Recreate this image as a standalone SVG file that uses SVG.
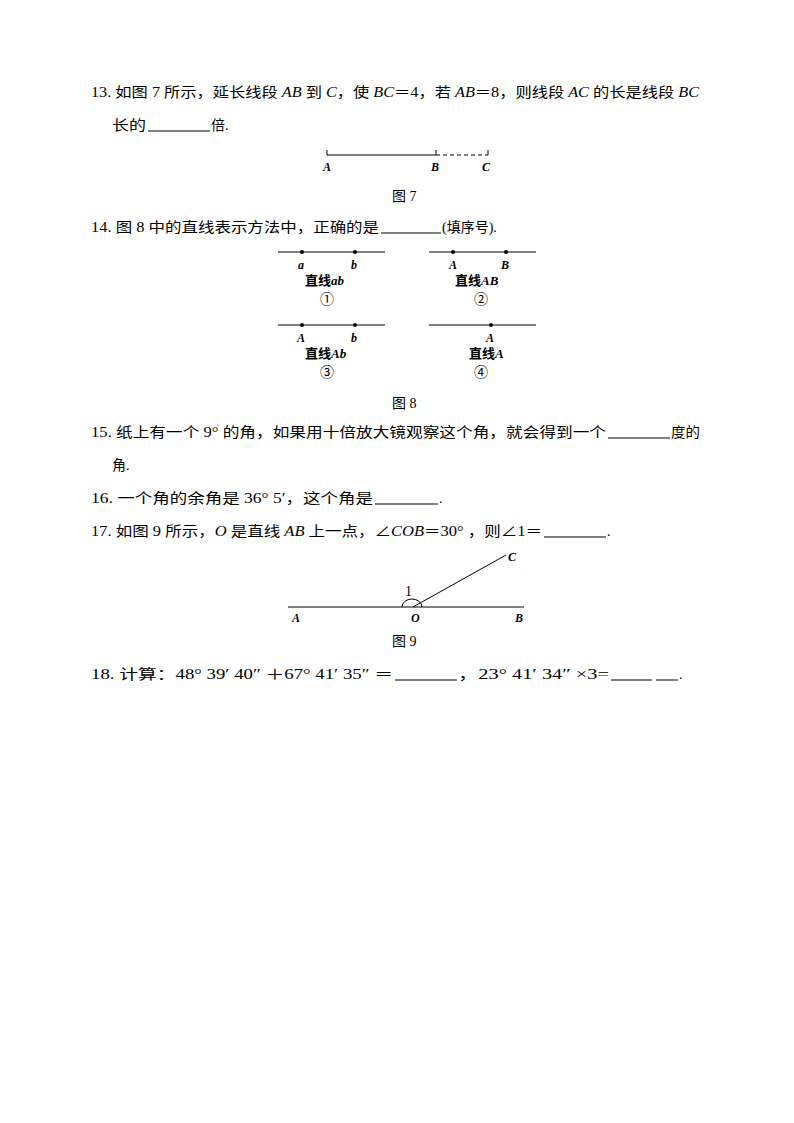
<svg xmlns="http://www.w3.org/2000/svg" width="794" height="1123" viewBox="0 0 794 1123">
<style>
text{font-family:"Liberation Serif","Noto Sans CJK SC",serif;font-size:14px;fill:#000}
.l{font-style:italic;font-weight:bold;font-size:12px}
.b{font-weight:bold;font-size:13px}
line,path{stroke:#000;stroke-width:1;fill:none}
.u{stroke-width:1}
</style>
<rect width="794" height="1123" fill="#fff"/>
<g id="q13">
<text x="91" y="97" textLength="608" lengthAdjust="spacingAndGlyphs">13. 如图 7 所示，延长线段 <tspan font-style="italic">AB</tspan> 到 <tspan font-style="italic">C</tspan>，使 <tspan font-style="italic">BC</tspan>＝4，若 <tspan font-style="italic">AB</tspan>＝8，则线段 <tspan font-style="italic">AC</tspan> 的长是线段 <tspan font-style="italic">BC</tspan></text>
<text x="112" y="130" textLength="34" lengthAdjust="spacingAndGlyphs">长的</text><line class="u" x1="148" y1="131" x2="210" y2="131"/><text x="211" y="130">倍.</text>
</g>
<g id="fig7">
<line x1="327" y1="155" x2="436" y2="155"/>
<line x1="436" y1="155" x2="488" y2="155" stroke-dasharray="4,3"/>
<line x1="327" y1="150" x2="327" y2="155"/><line x1="436" y1="150" x2="436" y2="155"/><line x1="488" y1="150" x2="488" y2="155"/>
<text class="l" x="323" y="171">A</text><text class="l" x="431" y="171">B</text><text class="l" x="482" y="171">C</text>
<text x="392" y="201">图 7</text>
</g>
<g id="q14">
<text x="91" y="232" textLength="288" lengthAdjust="spacingAndGlyphs">14. 图 8 中的直线表示方法中，正确的是</text><line class="u" x1="381" y1="233" x2="441" y2="233"/><text x="442" y="232">(填序号).</text>
</g>
<g id="fig8">
<line x1="278" y1="252" x2="385" y2="252"/><circle cx="302" cy="252" r="2"/><circle cx="355" cy="252" r="2"/>
<text class="l" x="298" y="269">a</text><text class="l" x="351" y="269">b</text>
<text class="b" x="305" y="285">直线<tspan font-style="italic">ab</tspan></text><text x="320" y="304" font-size="14">①</text>
<line x1="429" y1="252" x2="536" y2="252"/><circle cx="453" cy="252" r="2"/><circle cx="506" cy="252" r="2"/>
<text class="l" x="449" y="269">A</text><text class="l" x="501" y="269">B</text>
<text class="b" x="455" y="285">直线<tspan font-style="italic">AB</tspan></text><text x="474" y="304">②</text>
<line x1="278" y1="325" x2="385" y2="325"/><circle cx="302" cy="325" r="2"/><circle cx="355" cy="325" r="2"/>
<text class="l" x="297" y="342">A</text><text class="l" x="351" y="342">b</text>
<text class="b" x="305" y="358">直线<tspan font-style="italic">Ab</tspan></text><text x="320" y="377">③</text>
<line x1="429" y1="325" x2="536" y2="325"/><circle cx="491" cy="325" r="2"/>
<text class="l" x="486" y="342">A</text>
<text class="b" x="469" y="358">直线<tspan font-style="italic">A</tspan></text><text x="474" y="377">④</text>
<text x="392" y="408">图 8</text>
</g>
<g id="q15">
<text x="91" y="437" textLength="515" lengthAdjust="spacingAndGlyphs">15. 纸上有一个 9° 的角，如果用十倍放大镜观察这个角，就会得到一个</text><line class="u" x1="608" y1="438" x2="670" y2="438"/><text x="671" y="437" textLength="29" lengthAdjust="spacingAndGlyphs">度的</text>
<text x="112" y="470">角.</text>
</g>
<g id="q16">
<text x="91" y="503" textLength="282" lengthAdjust="spacingAndGlyphs">16. 一个角的余角是 36° 5′，这个角是</text><line class="u" x1="375" y1="504" x2="438" y2="504"/><text x="439" y="503">.</text>
</g>
<g id="q17">
<text x="91" y="536" textLength="451" lengthAdjust="spacingAndGlyphs">17. 如图 9 所示，<tspan font-style="italic">O</tspan> 是直线 <tspan font-style="italic">AB</tspan> 上一点，∠<tspan font-style="italic">COB</tspan>＝30° ，则∠1＝</text><line class="u" x1="544" y1="537" x2="606" y2="537"/><text x="607" y="536">.</text>
</g>
<g id="fig9">
<line x1="288" y1="607" x2="524" y2="607"/>
<line x1="413" y1="607" x2="506" y2="555"/>
<path d="M402 607 A10 8 0 0 1 422 607"/>
<text x="405" y="596" font-size="13">1</text>
<text class="l" x="292" y="622">A</text><text class="l" x="411" y="622">O</text><text class="l" x="515" y="622">B</text><text class="l" x="508" y="561">C</text>
<text x="392" y="646">图 9</text>
</g>
<g id="q18">
<text x="91" y="679" textLength="302" lengthAdjust="spacingAndGlyphs">18. 计算：48° 39′ 40″ ＋67° 41′ 35″ ＝</text><line class="u" x1="395" y1="680" x2="457" y2="680"/><text x="458" y="679" textLength="151" lengthAdjust="spacingAndGlyphs">，23° 41′ 34″ ×3=</text><line class="u" x1="611" y1="680" x2="652" y2="680"/><line class="u" x1="656" y1="680" x2="678" y2="680"/><text x="679" y="679">.</text>
</g>
</svg>
